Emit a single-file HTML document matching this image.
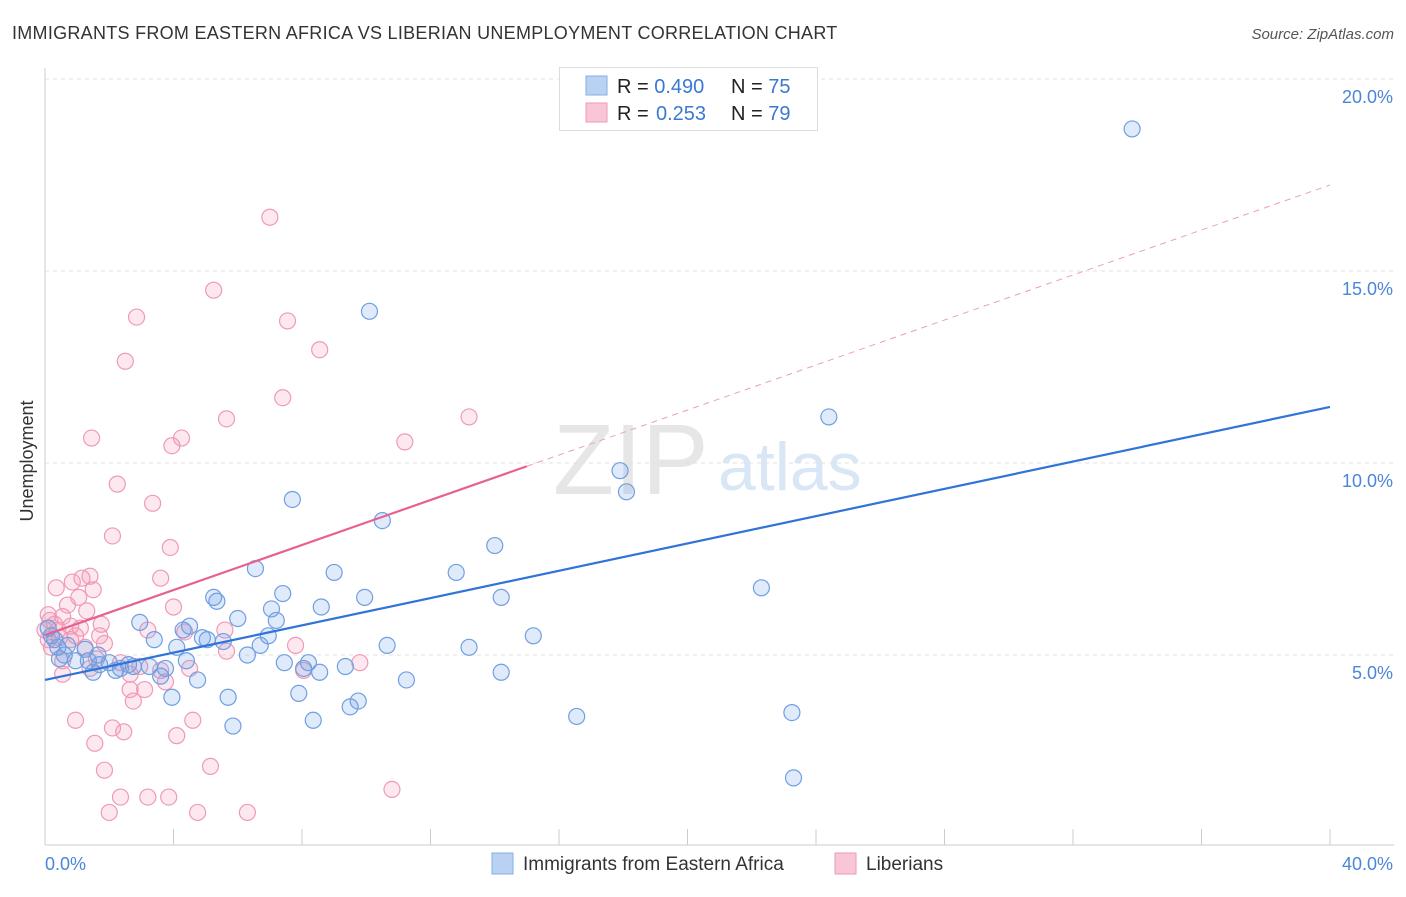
<!DOCTYPE html>
<html><head><meta charset="utf-8"><style>
body{margin:0;background:#fff;width:1406px;height:892px;overflow:hidden;font-family:"Liberation Sans",sans-serif}
svg text{font-family:"Liberation Sans",sans-serif}
</style></head><body>
<svg id="chart" width="1406" height="892">
<text x="12" y="39" font-size="18" fill="#333" letter-spacing="0.28">IMMIGRANTS FROM EASTERN AFRICA VS LIBERIAN UNEMPLOYMENT CORRELATION CHART</text>
<text x="1394" y="39" font-size="15" fill="#555" font-style="italic" text-anchor="end">Source: ZipAtlas.com</text>
<text x="553" y="494" font-size="100" fill="#e6e6e6" font-family="Liberation Serif,serif">ZIP</text>
<text x="718" y="490" font-size="68" fill="#d9e6f6">atlas</text>
<g id="grid"></g>
<line x1="45" y1="68" x2="45" y2="845" stroke="#ccc"/>
<line x1="45" y1="845" x2="1394" y2="845" stroke="#ccc"/>
<g id="xticks"></g>
<text x="28" y="456" font-size="18" fill="#333" transform="rotate(-90 33 456)" text-anchor="middle">Unemployment</text>
<text x="45" y="870" font-size="18" fill="#4a86d8">0.0%</text>
<text x="1393" y="870" font-size="18" fill="#4a86d8" text-anchor="end">40.0%</text>
<g id="pts"></g>
<g id="lines"></g>
<g>
<rect x="559.5" y="67.5" width="258" height="63" fill="#fff" stroke="#ddd"/>
<rect x="586" y="76" width="21" height="19" fill="#b9d1f3" stroke="#86aee6"/>
<rect x="586" y="103" width="21" height="19" fill="#f9c6d6" stroke="#ef9ab5"/>
<text x="617" y="93" font-size="20" fill="#222">R = <tspan fill="#3a78d4">0.490</tspan><tspan x="731">N = </tspan><tspan fill="#3a78d4">75</tspan></text>
<text x="617" y="120" font-size="20" fill="#222">R = <tspan x="656" fill="#3a78d4">0.253</tspan><tspan x="731">N = </tspan><tspan fill="#3a78d4">79</tspan></text>
</g>
<g>
<rect x="492" y="853" width="21" height="21" fill="#b9d1f3" stroke="#86aee6"/>
<text x="523" y="870" font-size="19" fill="#333">Immigrants from Eastern Africa</text>
</g>
<g>
<rect x="835" y="853" width="21" height="21" fill="#f9c6d6" stroke="#ef9ab5"/>
<text x="866" y="870" font-size="19" fill="#333">Liberians</text>
</g>
</svg>
<script>
const yTicks=[5,10,15,20];
const yTickLabels=["5.0%","10.0%","15.0%","20.0%"];
const xTickVals=[0,4,8,12,16,20,24,28,32,36,40];
const blueX=[33.84,10.1,24.4,17.9,18.1,7.7,10.5,14.0,6.55,9.0,12.8,22.3,7.4,5.25,9.95,14.2,5.35,8.6,7.05,6.0,7.2,2.95,4.5,4.3,15.2,4.9,6.95,3.4,5.05,5.55,10.65,6.7,13.2,4.1,0.1,0.3,0.4,0.7,1.25,1.65,0.45,0.95,2.0,2.6,2.75,3.25,3.75,4.4,6.3,8.2,7.45,9.35,8.05,8.55,14.2,1.5,2.2,3.6,4.75,11.25,7.9,3.95,5.7,9.75,9.5,23.25,16.55,8.35,5.85,23.3,1.7,2.35,0.2,0.6,1.35];
const blueY=[18.7,13.95,11.2,9.8,9.25,9.05,8.5,7.85,7.25,7.15,7.15,6.75,6.6,6.5,6.5,6.5,6.4,6.25,6.2,5.95,5.9,5.85,5.75,5.65,5.5,5.45,5.5,5.4,5.4,5.35,5.25,5.25,5.2,5.2,5.7,5.4,5.2,5.25,5.15,5.0,4.9,4.85,4.8,4.75,4.7,4.7,4.65,4.85,5.0,4.8,4.8,4.7,4.65,4.55,4.55,4.55,4.6,4.45,4.35,4.35,4.0,3.9,3.9,3.8,3.65,3.5,3.4,3.3,3.15,1.8,4.75,4.65,5.5,5.0,4.85];
const pinkX=[7.0,5.25,2.85,7.55,8.55,2.5,7.4,5.65,13.2,1.45,4.25,3.95,11.2,2.25,3.35,2.1,3.9,3.6,0.35,0.85,1.15,1.4,1.5,1.05,0.1,0.55,1.3,4.0,0.8,1.1,1.7,3.2,4.35,5.6,7.8,1.85,0.1,0.3,0.0,0.45,0.2,1.6,2.35,2.95,3.6,2.65,4.5,5.65,8.05,9.8,1.4,0.55,3.75,2.65,3.1,2.75,0.95,4.6,4.1,1.55,2.45,2.1,1.85,5.15,3.2,2.35,3.85,10.8,2.0,4.75,6.3,0.55,0.8,1.25,1.75,0.7,0.4,0.15,0.95];
const pinkY=[16.4,14.5,13.8,13.7,12.95,12.65,11.7,11.15,11.2,10.65,10.65,10.45,10.55,9.45,8.95,8.1,7.8,7.0,6.75,6.9,7.0,7.05,6.7,6.5,6.05,6.0,6.15,6.25,5.75,5.7,5.5,5.65,5.6,5.65,5.25,5.3,5.4,5.8,5.65,5.45,5.2,4.9,4.8,4.7,4.6,4.5,4.65,5.1,4.6,4.8,4.65,4.5,4.3,4.1,4.1,3.8,3.3,3.3,2.9,2.7,3.0,3.1,2.0,2.1,1.3,1.3,1.3,1.5,0.9,0.9,0.9,4.85,5.4,5.2,5.8,6.3,5.65,5.9,5.5];
const blueLine=[4.35,11.46];
const pinkLine=[5.52,17.24];
const pinkSolidEnd=15;
const NS="http://www.w3.org/2000/svg";
const sx=v=>45+v*(1285/40);
const sy=v=>847-v*38.4;
function mk(tag,attrs,parent){const e=document.createElementNS(NS,tag);for(const k in attrs)e.setAttribute(k,attrs[k]);parent.appendChild(e);return e;}
const grid=document.getElementById('grid');
yTicks.forEach((t,i)=>{
 const l=mk('line',{x1:45,x2:1394,y1:sy(t),y2:sy(t),stroke:'#e2e2e2','stroke-dasharray':'4 4'},grid);
 
 
 const tx=mk('text',{x:1393,y:sy(t)+24,'font-size':18,fill:'#4a86d8','text-anchor':'end'},grid);
 tx.textContent=yTickLabels[i];
 
 
});
const xt=document.getElementById('xticks');
xTickVals.forEach(v=>{
 const l=mk('line',{x1:sx(v),x2:sx(v),y1:829,y2:845,stroke:'#ccc'},xt);
 
 
});
const pts=document.getElementById('pts');
pinkX.forEach((x,i)=>{
 const c=mk('circle',{cx:sx(x),cy:sy(pinkY[i]),r:8,fill:'rgba(244,150,180,0.22)',stroke:'#ef9ab5','stroke-width':1.2},pts);
 
 
});
blueX.forEach((x,i)=>{
 const c=mk('circle',{cx:sx(x),cy:sy(blueY[i]),r:8,fill:'rgba(110,160,230,0.22)',stroke:'#6f9fe0','stroke-width':1.2},pts);
 
 
});
const ln=document.getElementById('lines');
const f=(a,x)=>a[0]+(a[1]-a[0])*x/40;
const b=mk('line',{x1:sx(0),y1:sy(f(blueLine,0)),x2:sx(40),y2:sy(f(blueLine,40)),stroke:'#2f74d6','stroke-width':2.2},ln);


const p1=mk('line',{x1:sx(0),y1:sy(f(pinkLine,0)),x2:sx(pinkSolidEnd),y2:sy(f(pinkLine,pinkSolidEnd)),stroke:'#e8618e','stroke-width':2.2},ln);


const p2=mk('line',{x1:sx(pinkSolidEnd),y1:sy(f(pinkLine,pinkSolidEnd)),x2:sx(40),y2:sy(f(pinkLine,40)),stroke:'#eaa0b8','stroke-width':1,'stroke-dasharray':'6 5'},ln);


</script>
</body></html>
